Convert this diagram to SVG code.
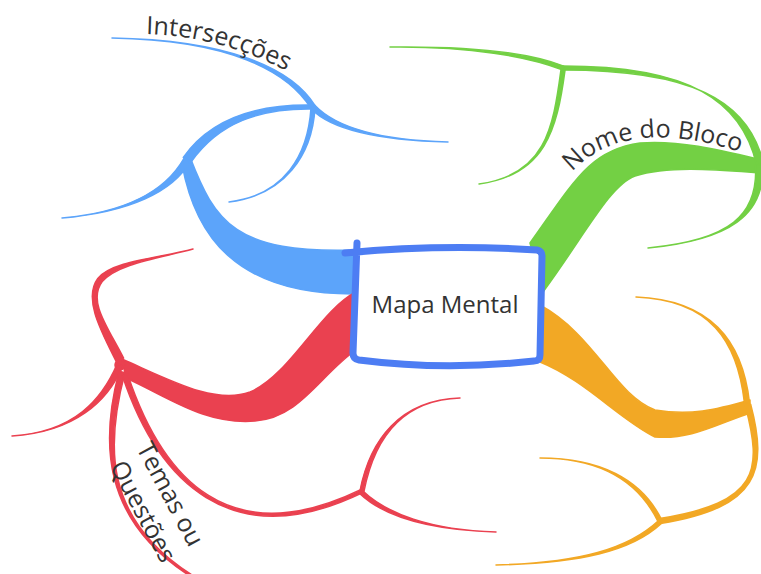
<svg xmlns="http://www.w3.org/2000/svg" width="761" height="574" viewBox="0 0 761 574">
  <style>
    .br { stroke-width: 1.5; stroke-linejoin: round; }
    .blue { fill: #5ca4fa; stroke: #5ca4fa; }
    .green { fill: #73d044; stroke: #73d044; }
    .red { fill: #ea4150; stroke: #ea4150; }
    .orange { fill: #f2a825; stroke: #f2a825; }
    .label { font-family: "Open Sans", "Noto Sans", "Liberation Sans", sans-serif; fill: #333333; font-size: 25px; }
    .frame { fill: #ffffff; stroke: #4d7df3; stroke-width: 7; stroke-linecap: round; stroke-linejoin: round; }
  </style>
  <defs>
    <path id="arc-intersec" d="M 146 34 Q 225 36 298 77"/>
    <path id="arc-bloco" d="M 572 172 Q 625 115 740 152"/>
  </defs>
  <rect width="761" height="574" fill="#ffffff"/>

  <g id="connectors">
    <!-- blue branch (upper left) -->
    <g class="br blue">
      <path d="M 356 250 C 235 254 215 222 190 157 L 182 164 C 195 235 235 295 356 294 Z"/>
      <path d="M 190.7 162.6 C 218.7 122.6 260 108 313 109 L 313 105 C 260 104 211.3 117.4 183.3 157.4 Z"/>
      <path d="M 190 161.7 C 173 191.7 130 212 62 218 C 130 212 167 188.3 184 158.3 Z"/>
      <path d="M 315.1 105.7 C 292.1 68.7 230 40 112 38 C 230 40 287.9 71.3 310.9 108.3 Z"/>
      <path d="M 314.8 105.3 C 331.8 123.3 370 140 448 142 C 370 140 328.2 126.7 311.2 108.7 Z"/>
      <path d="M 315 108.1 C 312 155.1 285 195 229 202 C 285 195 308 154.9 311 107.9 Z"/>
    </g>
    <!-- green branch (upper right) -->
    <g class="br green">
      <path d="M 530 243 C 575 180 590 150 640 143 C 680 140 720 150 762 160 L 762 173 C 720 170 670 165 635 176 C 610 185 585 235 543 292 Z"/>
      <path d="M 763.4 163.2 C 748.4 99.2 690 70 563 70 L 563 66 C 690 66 741.6 100.8 756.6 164.8 Z"/>
      <path d="M 762.5 164.8 C 765.5 214.8 730 240 648 248 C 730 240 758.5 215.2 755.5 165.2 Z"/>
      <path d="M 563.7 66.1 C 530.7 53.1 470 46 390 47 C 470 46 529.3 56.9 562.3 69.9 Z"/>
      <path d="M 565 70.3 C 557 130.3 545 175 479 184 C 545 175 553 129.7 561 69.7 Z"/>
    </g>
    <!-- red branch (lower left) -->
    <g class="br red">
      <path d="M 356 292 C 320 310 290 375 250 392 C 215 405 170 380 122 359 L 126 378 C 170 398 205 425 255 421 C 300 418 320 375 356 350 Z"/>
      <circle cx="120" cy="365" r="5"/>
      <path d="M 123.6 358.2 C 108.6 328.2 87.2 301.6 102.2 281.6 C 117.2 263.6 160 258 193 249 C 160 258 112.8 260.4 97.8 278.4 C 82.8 298.4 101.4 331.8 116.4 361.8 Z"/>
      <path d="M 117.24 363.82 C 102.24 398.82 75 432 12 436 C 75 432 107.76 401.18 122.76 366.18 Z"/>
      <path d="M 119.1 371.23 C 101.1 439.23 99.48 520.85 194.48 578.85 L 195.52 577.15 C 100.52 519.15 106.9 440.77 124.9 372.77 Z"/>
      <path d="M 122.4 375.87 C 157.4 480.87 230.76 556.58 362.76 492.58 L 361.24 489.42 C 229.24 553.42 162.6 479.13 127.6 374.13 Z"/>
      <path d="M 363.96 491.38 C 373.96 440.38 400 400 460 398 C 400 400 370.04 439.62 360.04 490.62 Z"/>
      <path d="M 359.62 493.44 C 383.62 516.44 430 530 496 532 C 430 530 386.38 513.56 362.38 490.56 Z"/>
    </g>
    <!-- orange branch (lower right) -->
    <g class="br orange">
      <path d="M 540 305 C 595 335 615 395 655 410 C 690 416 715 410 750 400 L 750 413 C 715 425 690 440 655 437 C 620 420 585 380 540 362 Z"/>
      <path d="M 749.49 402.72 C 742.49 339.72 710 300 636 297 C 710 300 737.51 340.28 744.51 403.28 Z"/>
      <path d="M 745.34 405.7 C 762.34 470.7 759.6 502.53 659.6 518.53 L 660.4 523.47 C 760.4 507.47 767.66 469.3 750.66 404.3 Z"/>
      <path d="M 661.8 520.12 C 641.8 479.12 600 458 540 458 C 600 458 638.2 480.88 658.2 521.88 Z"/>
      <path d="M 658.64 520.54 C 628.64 548.54 580 563 496 565 C 580 563 631.36 551.46 661.36 523.46 Z"/>
    </g>
  </g>

  <g id="node-central">
    <path class="frame" d="M 345 253 Q 440 244 537 250 Q 542 251 542 256 L 540 355 Q 540 361 534 361 Q 445 371 359 360 Q 353 359 353 353 L 357 243"/>
    <text class="label" x="445" y="313" text-anchor="middle" style="font-size:24px">Mapa Mental</text>
  </g>

  <g id="node-intersecoes">
    <text class="label"><textPath href="#arc-intersec">Intersecções</textPath></text>
  </g>

  <g id="node-nome-bloco">
    <text class="label"><textPath href="#arc-bloco">Nome do Bloco</textPath></text>
  </g>

  <g id="node-temas">
    <text class="label" transform="rotate(62 136 448)">
      <tspan x="136" y="448">Temas ou</tspan>
      <tspan x="140" y="480">Questões</tspan>
    </text>
  </g>
</svg>
